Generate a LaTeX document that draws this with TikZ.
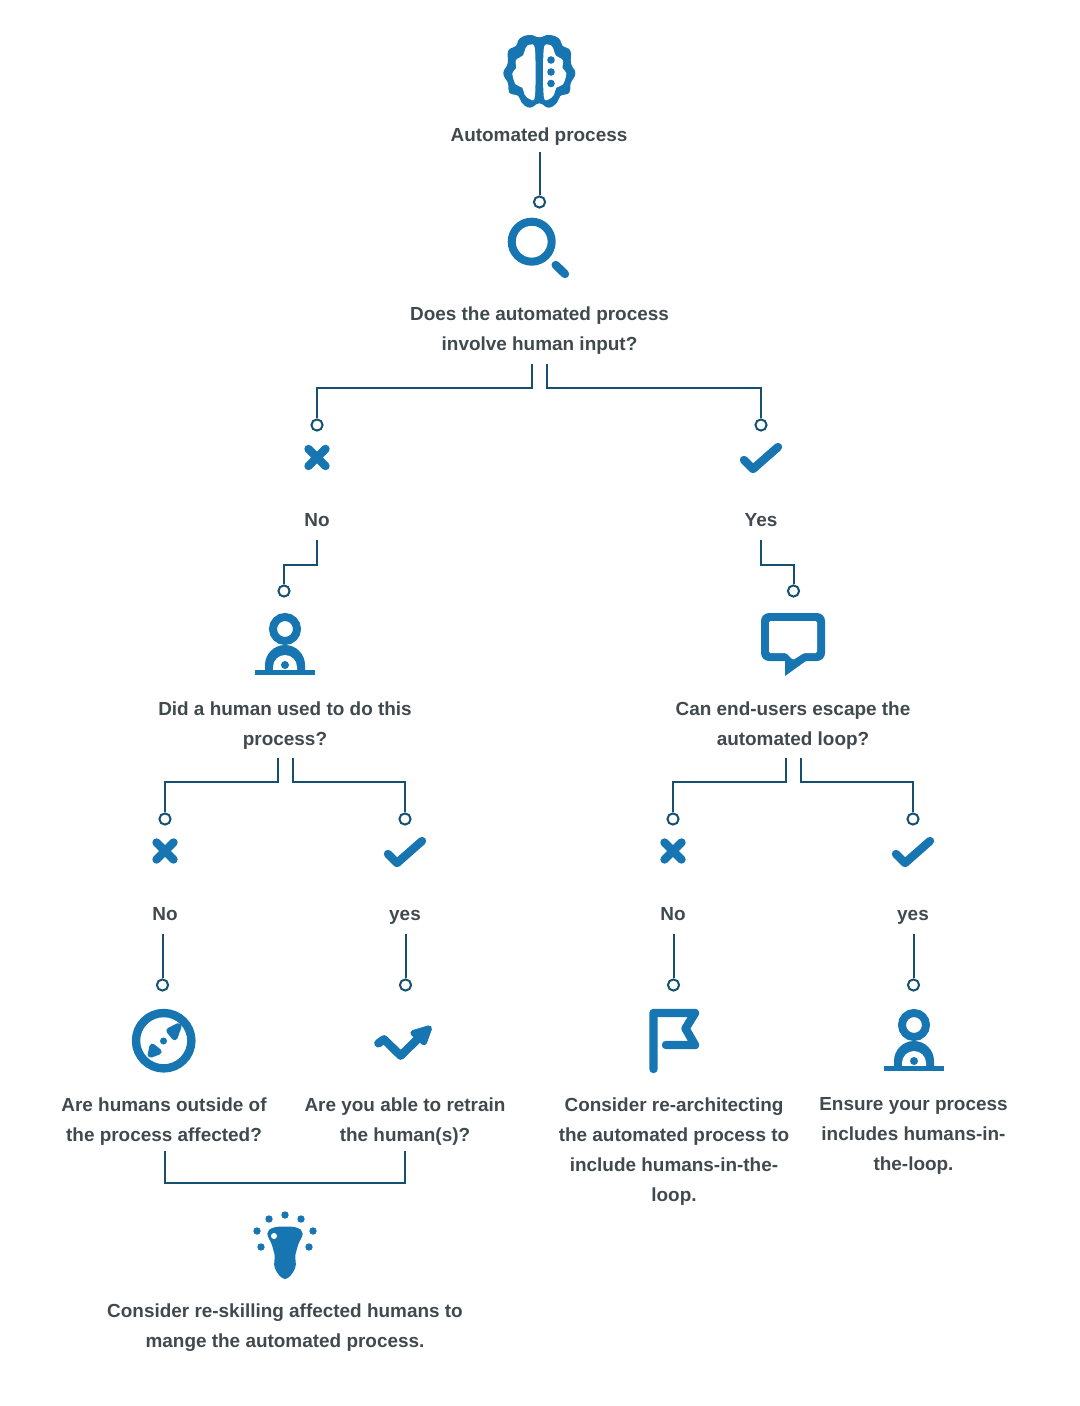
\documentclass[tikz,border=0pt]{standalone}
\usepackage{fontspec}
\setmainfont{Liberation Sans}
\usetikzlibrary{calc}
\definecolor{ico}{HTML}{1775B2}
\definecolor{lnk}{HTML}{15506F}
\definecolor{txt}{HTML}{40494E}
\tikzset{
  x=0.75pt,y=-0.75pt,
  lbl/.style={font=\fontsize{14.2}{22.5}\selectfont\bfseries,text=txt,align=center,inner sep=0pt},
  one/.style={lbl,text height=10.5pt,text depth=0pt,yshift=0.6pt},
  many/.style={lbl,yshift=-1.6pt},
  dotend/.style={circle,draw=lnk,line width=1.5pt,fill=white,minimum size=8.4pt,inner sep=0pt},
  wire/.style={draw=lnk,line width=1.5pt,line join=miter},
  icon/.style={draw=ico,line width=6.3pt,line cap=round,line join=round},
  solid/.style={fill=ico,draw=ico,line width=4.5pt,line join=round},
  zoomed/.style={shift={(#1)},x=0.25pt,y=-0.25pt},
}
\newcommand{\spot}[3]{\fill[ico] (#1,#2) circle[radius=#3*0.75pt];}
\newcommand{\crossicon}[2]{\draw[icon] (#1-8.5,#2-8.5) -- (#1+8.5,#2+8.5) (#1+8.5,#2-8.5) -- (#1-8.5,#2+8.5);}
\newcommand{\tickicon}[2]{\draw[icon] (#1-17,#2+3) -- (#1-8,#2+12) -- (#1+17,#2-10);}
\newcommand{\personicon}[2]{%
  \draw[draw=ico,line width=6pt] (#1,#2+12) circle[radius=12*0.75pt];
  \fill[ico] (#1-20,#2+55) -- (#1-20,#2+48) arc[start angle=180,end angle=0,radius=20*0.75pt] -- (#1+20,#2+55) -- cycle;
  \fill[white] (#1-12,#2+55) -- (#1-12,#2+50) arc[start angle=180,end angle=0,radius=12*0.75pt] -- (#1+12,#2+55) -- cycle;
  \fill[ico] (#1-30,#2+53) rectangle (#1+30,#2+58);
  \spot{#1}{#2+48}{4}}
\begin{document}
\begin{tikzpicture}
\useasboundingbox (0,0) rectangle (1080,1406);
% brain
\begin{scope}[zoomed={480,20}]
\fill[ico] plot[smooth cycle,tension=0.8] coordinates {(178,52)(150,45)(120,55)(108,78)(85,92)(83,130)(70,160)(84,190)(88,218)(115,228)(125,248)(150,263)(178,250)(206,263)(231,248)(241,228)(268,218)(272,190)(286,160)(273,130)(271,92)(248,78)(236,55)(206,45)};
\fill[white] plot[smooth cycle,tension=0.6] coordinates {(150,74)(165,90)(165,226)(150,238)(134,224)(127,203)(107,193)(97,160)(108,145)(108,120)(128,107)(138,82)};
\fill[white] plot[smooth cycle,tension=0.6] coordinates {(206,74)(191,90)(191,226)(206,238)(222,224)(229,203)(249,193)(259,160)(248,145)(248,120)(228,107)(218,82)};
\end{scope}
\spot{551}{60}{3.8}\spot{551}{72}{3.8}\spot{551}{83.5}{3.8}
% magnifier
\draw[draw=ico,line width=6pt] (531.7,241.7) circle[radius=20*0.75pt];
\draw[icon] (555.7,265) -- (565,274);
\crossicon{317}{457.5}
\tickicon{761}{457}
\personicon{285}{617}
% speech bubble
\fill[ico,rounded corners=6pt] (761,613) -- (825,613) -- (825,661) -- (761,661) -- cycle;
\fill[ico] (785,655) -- (785,676) -- (810,658) -- cycle;
\fill[white,rounded corners=1pt] (769,621) -- (817,621) -- (817,653) -- (804,653) -- (793,660) -- (786,653) -- (769,653) -- cycle;
\crossicon{165}{851}
\tickicon{405}{851}
\crossicon{673}{851}
\tickicon{913}{851}
% compass
\draw[draw=ico,line width=6.3pt] (163.7,1040.7) circle[radius=27.7*0.75pt];
\spot{163.5}{1041}{3.5}
\begin{scope}[zoomed={120,1000}]
\filldraw[solid] (176,78) -- (148,92) -- (164,112) -- cycle;
\filldraw[solid] (92,164) -- (97,140) -- (116,155) -- cycle;
\end{scope}
% trend
\begin{scope}[zoomed={360,1005}]
\draw[icon] (55,115) -- (72,103) -- (122,152) -- (170,105);
\filldraw[solid] (160,84) -- (207,70) -- (192,112) -- cycle;
\end{scope}
% flag
\draw[icon] (653.5,1069) -- (653.5,1013) -- (695,1013) -- (685.5,1028.5) -- (695,1045) -- (666,1045);
\personicon{914}{1013}
% bulb
\begin{scope}[zoomed={240,1200}]
\fill[ico] plot[smooth cycle,tension=0.7] coordinates {(135,80)(170,83)(188,100)(174,135)(166,165)(165,205)(135,237)(105,205)(104,165)(96,135)(82,100)(100,83)};
\fill[white] (102,108) circle[radius=3*0.75pt];
\end{scope}
\spot{285}{1215}{3.7}\spot{269}{1219}{3.7}\spot{301}{1219}{3.7}\spot{257}{1231}{3.7}\spot{313}{1231}{3.7}\spot{261}{1247}{3.7}\spot{309}{1247}{3.7}
% text
\node[one] (t0) at (539,135) {Automated process};
\node[many] (t1) at (539.5,328) {Does the automated process\\involve human input?};
\node[one] (no1) at (317,520) {No};
\node[one] (yes1) at (761,520) {Yes};
\node[many] (t2) at (285,723) {Did a human used to do this\\process?};
\node[many] (t3) at (793,723) {Can end-users escape the\\automated loop?};
\node[one] (no2) at (165,914) {No};
\node[one] (yes2) at (405,914) {yes};
\node[one] (no3) at (673,914) {No};
\node[one] (yes3) at (913,914) {yes};
\node[many] (t4) at (164,1119) {Are humans outside of\\the process affected?};
\node[many] (t5) at (405,1119) {Are you able to retrain\\the human(s)?};
\node[many] (t6) at (674,1149) {Consider re-architecting\\the automated process to\\include humans-in-the-\\loop.};
\node[many] (t7) at (913.5,1134) {Ensure your process\\includes humans-in-\\the-loop.};
\node[many] (t8) at (285,1325) {Consider re-skilling affected humans to\\mange the automated process.};
% end circles
\node[dotend] (c0) at (539.5,202) {};
\node[dotend] (c1) at (317,425) {};
\node[dotend] (c2) at (761,425) {};
\node[dotend] (c3) at (284,591) {};
\node[dotend] (c4) at (793.5,591) {};
\node[dotend] (c5) at (165,819) {};
\node[dotend] (c6) at (405,819) {};
\node[dotend] (c7) at (673,819) {};
\node[dotend] (c8) at (913,819) {};
\node[dotend] (c9) at (162.5,985) {};
\node[dotend] (c10) at (405.5,985) {};
\node[dotend] (c11) at (673.5,985) {};
\node[dotend] (c12) at (913.5,985) {};
% free ends
\coordinate (s0) at (539.5,152);
\coordinate (s1a) at (531.5,364);
\coordinate (s1b) at (547,364);
\coordinate (s2) at (317,540);
\coordinate (s3) at (761,540);
\coordinate (s4a) at (277.5,758);
\coordinate (s4b) at (292.5,758);
\coordinate (s5a) at (785.5,758);
\coordinate (s5b) at (801,758);
\coordinate (s6) at (162.5,934);
\coordinate (s7) at (405.5,934);
\coordinate (s8) at (673.5,934);
\coordinate (s9) at (913.5,934);
\coordinate (s10a) at (165,1151);
\coordinate (s10b) at (405,1151);
% connectors
\draw[wire] (s0) -- (c0.north);
\draw[wire] (s1a) |- (317,388) -- (c1.north);
\draw[wire] (s1b) |- (761,388) -- (c2.north);
\draw[wire] (s2) |- (284,565) -- (c3.north);
\draw[wire] (s3) |- (793.5,565) -- (c4.north);
\draw[wire] (s4a) |- (165,782) -- (c5.north);
\draw[wire] (s4b) |- (405,782) -- (c6.north);
\draw[wire] (s5a) |- (673,782) -- (c7.north);
\draw[wire] (s5b) |- (913,782) -- (c8.north);
\draw[wire] (s6) -- (c9.north);
\draw[wire] (s7) -- (c10.north);
\draw[wire] (s8) -- (c11.north);
\draw[wire] (s9) -- (c12.north);
\draw[wire] (s10a) |- (405,1183) -- (s10b);
\end{tikzpicture}
\end{document}
